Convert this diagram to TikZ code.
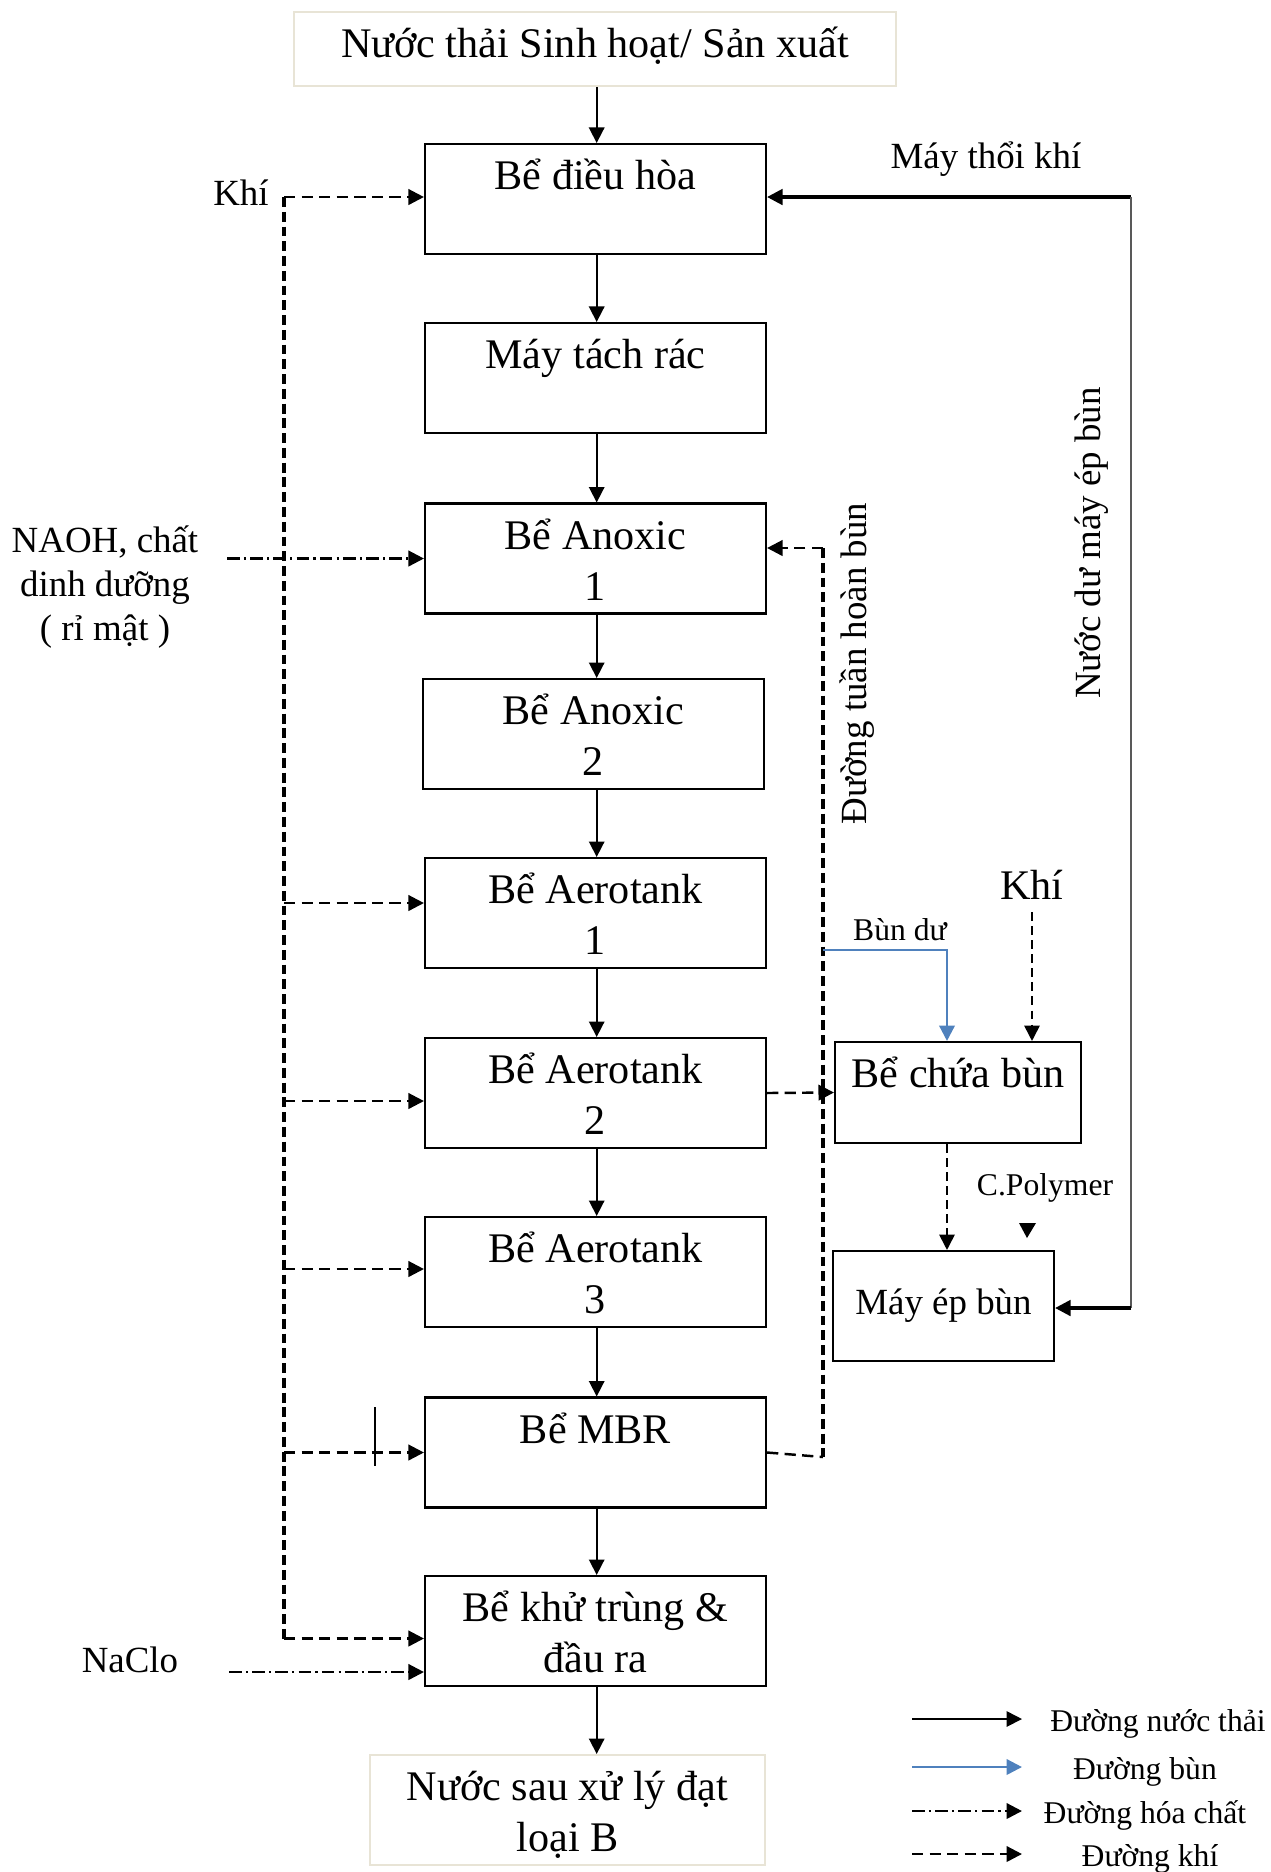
\documentclass[tikz,border=0pt]{standalone}
\usepackage{fontspec}
\setmainfont{Liberation Serif}
\usepackage{tikz}
\usetikzlibrary{arrows.meta,calc,positioning}
\definecolor{sludgeblue}{RGB}{79,129,189}
\definecolor{boxbeige}{RGB}{232,228,214}

\begin{document}
\begin{tikzpicture}[>={Triangle[length=4.4pt,width=4.4pt]}, font=\fontsize{12}{14.5}\selectfont,
		tank/.style={draw, line width=0.6pt, minimum width=3.41cm, minimum height=1.10cm, inner sep=0pt, label={[tanktext]north:\rule{0pt}{0.40cm}#1}},
		tanktext/.style={anchor=north, align=center, inner sep=0pt, yshift=-0.06cm},
		flow/.style={->, line width=0.5pt},
		air/.style={->, line width=0.7pt, dash pattern=on 3.2pt off 1.8pt},
		airthin/.style={->, line width=0.5pt, dash pattern=on 2.4pt off 1.6pt},
		airmain/.style={line width=1.4pt, dash pattern=on 2.8pt off 1.4pt},
		chem/.style={->, line width=0.7pt, dash pattern=on 3.6pt off 1.2pt on 0.6pt off 1.2pt},
		sludge/.style={->, line width=0.7pt, color=sludgeblue},
		side/.style={font=\fontsize{10.5}{12.5}\selectfont, align=center},
		small/.style={font=\fontsize{9}{11}\selectfont}]
	\useasboundingbox (0,0) rectangle (12.71,-18.72);

	\node[tank={Nước thải Sinh hoạt/ Sản xuất}, draw=boxbeige, minimum width=6.02cm, minimum height=0.74cm] (src) at (5.95,-0.49) {};
	\node[tank={Bể điều hòa}] (bdh) at (5.955,-1.99) {};
	\node[tank={Máy tách rác}] (mtr) at (5.955,-3.78) {};
	\node[tank={Bể Anoxic\\1}] (ax1) at (5.955,-5.585) {};
	\node[tank={Bể Anoxic\\2}] (ax2) at (5.935,-7.34) {};
	\node[tank={Bể Aerotank\\1}] (ae1) at (5.955,-9.13) {};
	\node[tank={Bể Aerotank\\2}] (ae2) at (5.955,-10.93) {};
	\node[tank={Bể Aerotank\\3}] (ae3) at (5.955,-12.72) {};
	\node[tank={Bể MBR}] (mbr) at (5.955,-14.525) {};
	\node[tank={Bể khử trùng \&\\đầu ra}] (ktr) at (5.955,-16.31) {};
	\node[tank={Nước sau xử lý đạt\\loại B}, draw=boxbeige, minimum width=3.95cm] (out) at (5.675,-18.10) {};

	\node[tank={Bể chứa bùn}, minimum width=2.46cm, minimum height=1.01cm] (bcb) at (9.58,-10.925) {};
	\node[draw, line width=0.6pt, minimum width=2.21cm, minimum height=1.10cm, font=\fontsize{10.5}{12.5}\selectfont] (mep) at (9.435,-13.06) {Máy ép bùn};

	\foreach \a/\b in {src/bdh, bdh/mtr, mtr/ax1, ax1/ax2, ax2/ae1, ae1/ae2, ae2/ae3, ae3/mbr, mbr/ktr}
		\draw[flow] (\a.south -| 5.967,0) -- (\b.north -| 5.967,0);
	\draw[flow] (ktr.south -| 5.967,0) -- (out.north -| 5.967,0);

	\node[side] (khi1) at (2.41,-1.93) {Khí};
	\coordinate (airtop) at (2.84,-1.97);
	\coordinate (airbot) at (2.84,-16.385);
	\draw[airmain] (airtop) -- (airbot);
	\draw[air] (airtop) -- (bdh.west |- airtop);
	\foreach \t/\y in {ae1/-9.03, ae2/-11.01, ae3/-12.69, mbr/-14.525, ktr/-16.385}
		\draw[air] (2.84,\y) -- (\t.west |- 0,\y);
	\draw[line width=0.6pt] (3.75,-14.07) -- (3.75,-14.66);

	\node[side] (naoh) at (1.05,-5.87) {NAOH, chất\\dinh dưỡng\\( rỉ mật )};
	\coordinate (naohin) at (2.27,-5.585);
	\draw[chem] (naohin) -- (ax1.west);
	\node[side] (naclo) at (1.30,-16.60) {NaClo};
	\coordinate (nacloin) at (2.29,-16.72);
	\draw[chem] (nacloin) -- (ktr.west |- nacloin);

	\coordinate (rtop) at (8.23,-5.48);
	\coordinate (rbot) at (8.23,-14.57);
	\draw[airmain] (rtop) -- (rbot);
	\draw[air, -] (mbr.east) -- (rbot);
	\draw[air] (rtop) -- (ax1.east |- rtop);
	\node[side, rotate=90] (rec) at (8.57,-6.635) {Đường tuần hoàn bùn};
	\draw[air] (ae2.east) -- (bcb.west);

	\coordinate (bdu) at (8.23,-9.50);
	\draw[sludge] (bdu) -| (bcb.north -| 9.47,0);
	\node[small] (bundu) at (9.00,-9.30) {Bùn dư};
	\node[font=\fontsize{12}{14}\selectfont] (khi2) at (10.32,-8.85) {Khí};
	\draw[airthin] (khi2.south) -- (bcb.north -| khi2.south);
	\draw[airthin] (bcb.south -| 9.47,0) -- (mep.north -| 9.47,0);

	\node[small] (poly) at (10.45,-11.88) {C.Polymer};
	\fill (10.19,-12.23) -- (10.36,-12.23) -- (10.27,-12.38) -- cycle;

	\node[side] (mtk) at (9.86,-1.59) {Máy thổi khí};
	\coordinate (blwr) at (11.31,-1.97);
	\coordinate (blwrb) at (11.31,-13.08);
	\draw[flow, line width=0.9pt] (blwr) -- (bdh.east |- blwr);
	\draw[gray!70!black, line width=0.5pt] (blwr) -- (blwrb);
	\draw[flow, line width=0.9pt] (blwrb) -- (mep.east |- blwrb);
	\node[side, rotate=90] (ndu) at (10.92,-5.43) {Nước dư máy ép bùn};

	\foreach \s/\y/\x/\t in {flow/-17.19/11.58/Đường nước thải, sludge/-17.67/11.45/Đường bùn, chem/-18.11/11.45/Đường hóa chất, air/-18.54/11.50/Đường khí}{
		\coordinate (lg\s) at (9.12,\y);
		\draw[\s] (lg\s) -- ++(1.10,0);
		\node[small, anchor=base] (lt\s) at (\x,\y-0.12) {\t};
	}
\end{tikzpicture}
\end{document}
